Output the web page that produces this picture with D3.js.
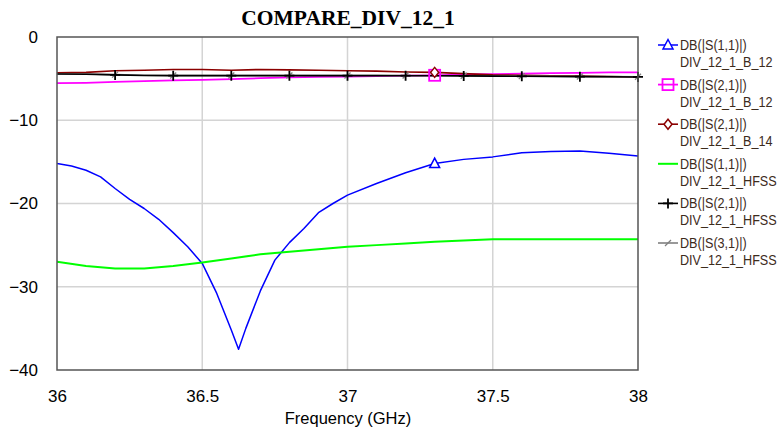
<!DOCTYPE html>
<html>
<head>
<meta charset="utf-8">
<script src="https://cdn.jsdelivr.net/npm/d3@7"></script>
<style>
  html, body { margin: 0; padding: 0; background: #fff; }
  svg { display: block; font-family: "Liberation Sans", Arial, sans-serif; }
</style>
</head>
<body>
<div id="chart"></div>
<script>
// chart data //

// frequency grid (GHz) used by most traces
var freqs = [36.0, 36.1, 36.2, 36.3, 36.4, 36.5, 36.6, 36.7, 36.8, 36.9, 37.0,
             37.1, 37.2, 37.3, 37.4, 37.5, 37.6, 37.7, 37.8, 37.9, 38.0];

// finer grid for the S11 of DIV_12_1_B_12
var freqsS11B12 = [36.0, 36.05, 36.1, 36.15, 36.2, 36.25, 36.3, 36.35, 36.4, 36.45, 36.5,
                   36.55, 36.6, 36.625, 36.65, 36.7, 36.75, 36.8, 36.85, 36.9, 36.95, 37.0,
                   37.1, 37.2, 37.3, 37.4, 37.5, 37.6, 37.7, 37.8, 37.9, 38.0];
var s11B12 = [-15.2, -15.5, -16.0, -16.8, -18.2, -19.5, -20.6, -21.9, -23.5, -25.2, -27.2,
              -30.8, -35.2, -37.5, -35.0, -30.5, -26.8, -24.7, -23.0, -21.1, -20.0, -19.0,
              -17.6, -16.3, -15.2, -14.7, -14.4, -13.9, -13.75, -13.7, -13.95, -14.3];

var s21B12 = [-5.55, -5.5, -5.4, -5.3, -5.2, -5.15, -5.05, -4.95, -4.85, -4.8, -4.75,
              -4.7, -4.65, -4.6, -4.5, -4.45, -4.4, -4.35, -4.3, -4.25, -4.25];

var s21B14 = [-4.3, -4.25, -4.05, -4.0, -3.9, -3.9, -4.0, -3.9, -3.95, -4.0, -4.05,
              -4.1, -4.2, -4.25, -4.4, -4.55, -4.6, -4.65, -4.7, -4.75, -4.8];

var s11Hfss = [-27.0, -27.5, -27.8, -27.8, -27.5, -27.1, -26.6, -26.1, -25.8, -25.5, -25.2,
               -25.0, -24.8, -24.6, -24.45, -24.3, -24.3, -24.3, -24.3, -24.3, -24.3];

var s21Hfss = [-4.45, -4.48, -4.55, -4.62, -4.64, -4.64, -4.64, -4.64, -4.64, -4.64, -4.64,
               -4.64, -4.65, -4.65, -4.67, -4.7, -4.72, -4.74, -4.76, -4.78, -4.8];

var s31Hfss = [-4.42, -4.45, -4.52, -4.6, -4.62, -4.62, -4.62, -4.62, -4.62, -4.62, -4.62,
               -4.62, -4.63, -4.63, -4.65, -4.68, -4.7, -4.72, -4.74, -4.76, -4.78];

// where the symbols sit on the traces
var markerFreqsB = [37.3];
var markerFreqsHfss = [36.2, 36.4, 36.6, 36.8, 37.0, 37.2, 37.4, 37.6, 37.8, 38.0];

var xTicks = [36, 36.5, 37, 37.5, 38];
var yTicks = [0, -10, -20, -30, -40];

var seriesNames = ["DB(|S(1,1)|)", "DB(|S(2,1)|)", "DB(|S(2,1)|)", "DB(|S(1,1)|)", "DB(|S(2,1)|)", "DB(|S(3,1)|)"];
var seriesDocs = ["DIV_12_1_B_12", "DIV_12_1_B_12", "DIV_12_1_B_14", "DIV_12_1_HFSS", "DIV_12_1_HFSS", "DIV_12_1_HFSS"];

// build the traces
    function makeSeries(){
        return [
            {x: freqsS11B12, y: s11B12, color: "#0000ff", width: 1.5, marker: "triangle", mx: markerFreqsB},
            {x: freqs, y: s21B12, color: "#ff00ff", width: 1.8, marker: "square", mx: markerFreqsB},
            {x: freqs, y: s21B14, color: "#8b0000", width: 1.6, marker: "diamond", mx: markerFreqsB},
            {x: freqs, y: s11Hfss, color: "#00ff00", width: 2, marker: "none", mx: []},
            {x: freqs, y: s31Hfss, color: "#808080", width: 1.6, marker: "slash", mx: markerFreqsHfss},
            {x: freqs, y: s21Hfss, color: "#000000", width: 1.6, marker: "plus", mx: markerFreqsHfss}
        ];
    }

// draw one marker symbol at (0,0) into g
    function drawMarker(g, type, color){
        if (type === "triangle"){
            g.append("path").attr("d", "M0,-5.5L5,4L-5,4Z")
                .attr("fill", "#fff").attr("stroke", color).attr("stroke-width", 1.5);
        } else if (type === "square"){
            g.append("rect").attr("x", -5.5).attr("y", -5.5).attr("width", 11).attr("height", 11)
                .attr("fill", "none").attr("stroke", color).attr("stroke-width", 1.8);
        } else if (type === "diamond"){
            g.append("path").attr("d", "M0,-5L4,0L0,5L-4,0Z")
                .attr("fill", "#fff").attr("stroke", color).attr("stroke-width", 1.5);
        } else if (type === "plus"){
            g.append("path").attr("d", "M0,-5V5M-5,0H5")
                .attr("stroke", color).attr("stroke-width", 1.8);
        } else if (type === "slash"){
            g.append("path").attr("d", "M-3,3L3,-3")
                .attr("stroke", color).attr("stroke-width", 1.3);
        }
    }

    function makeChart(){
        var width = 780, height = 433;
        var left = 57, right = 638, top = 37, bottom = 370;

        var x = d3.scaleLinear().domain([36, 38]).range([left, right]);
        var y = d3.scaleLinear().domain([-40, 0]).range([bottom, top]);

        var svg = d3.select("#chart").append("svg")
            .attr("width", width).attr("height", height);

        // grid
        svg.append("g").selectAll("line").data(xTicks.slice(1, -1)).enter().append("line")
            .attr("x1", function(d){ return x(d); }).attr("x2", function(d){ return x(d); })
            .attr("y1", top).attr("y2", bottom)
            .attr("stroke", "#d4d4d4").attr("stroke-width", 1.5);
        svg.append("g").selectAll("line").data(yTicks.slice(1, -1)).enter().append("line")
            .attr("y1", function(d){ return y(d); }).attr("y2", function(d){ return y(d); })
            .attr("x1", left).attr("x2", right)
            .attr("stroke", "#d4d4d4").attr("stroke-width", 1.5);

        // axes labels through d3 axes, no tick lines
        var xAxis = svg.append("g").attr("transform", "translate(0," + bottom + ")")
            .call(d3.axisBottom(x).tickValues(xTicks).tickSize(0).tickPadding(20).tickFormat(d3.format("")));
        var yAxis = svg.append("g").attr("transform", "translate(" + left + ",0)")
            .call(d3.axisLeft(y).tickValues(yTicks).tickSize(0).tickPadding(19).tickFormat(d3.format("")));
        [xAxis, yAxis].forEach(function(a){
            a.select(".domain").remove();
            a.selectAll("text").attr("font-family", "'Liberation Sans', Arial, sans-serif")
                .attr("font-size", 17).attr("fill", "#000");
        });

        // traces
        var clip = svg.append("clipPath").attr("id", "plotclip").append("rect")
            .attr("x", left).attr("y", top).attr("width", right - left).attr("height", bottom - top);
        var plot = svg.append("g").attr("clip-path", "url(#plotclip)");
        var series = makeSeries();
        series.forEach(function(s){
            var pts = s.x.map(function(f, i){ return [f, s.y[i]]; });
            var line = d3.line().x(function(d){ return x(d[0]); }).y(function(d){ return y(d[1]); });
            plot.append("path").datum(pts).attr("d", line)
                .attr("fill", "none").attr("stroke", s.color).attr("stroke-width", s.width)
                .attr("stroke-linejoin", "round");
        });
        series.forEach(function(s){
            s.mx.forEach(function(f){
                var v = d3.scaleLinear().domain(s.x).range(s.y)(f);
                var g = svg.append("g").attr("transform", "translate(" + x(f) + "," + y(v) + ")");
                drawMarker(g, s.marker, s.color);
            });
        });

        // frame
        svg.append("rect").attr("x", left).attr("y", top)
            .attr("width", right - left).attr("height", bottom - top)
            .attr("fill", "none").attr("stroke", "#555").attr("stroke-width", 1.5);

        // title and axis title
        svg.append("text").attr("x", 348).attr("y", 25).attr("text-anchor", "middle")
            .attr("font-family", "'Liberation Serif', 'Times New Roman', serif")
            .attr("font-weight", "bold").attr("font-size", 21.5)
            .text("COMPARE_DIV_12_1");
        svg.append("text").attr("x", 348).attr("y", 424).attr("text-anchor", "middle")
            .attr("font-size", 16.5).attr("fill", "#000")
            .text("Frequency (GHz)");

        // legend
        var legend = svg.append("g").attr("transform", "translate(658,0)");
        var order = [0, 1, 2, 3, 5, 4];
        var legendStyle = makeSeries();
        order.forEach(function(si, i){
            var s = legendStyle[si];
            var yy = 45 + i * 39.6;
            var g = legend.append("g").attr("transform", "translate(0," + yy + ")");
            g.append("line").attr("x1", 0).attr("x2", 20).attr("y1", 0).attr("y2", 0)
                .attr("stroke", s.color).attr("stroke-width", s.width);
            var m = g.append("g").attr("transform", "translate(10,0)");
            drawMarker(m, s.marker, s.color);
            var t = g.append("g").attr("transform", "translate(22,0) scale(0.87,1)");
            t.append("text").attr("x", 0).attr("y", 5).attr("font-size", 14.5).attr("fill", "#3d2b1c")
                .text(seriesNames[i]);
            t.append("text").attr("x", 0).attr("y", 22).attr("font-size", 14.5).attr("fill", "#3d2b1c")
                .text(seriesDocs[i]);
        });
    }

    makeChart();
</script>
</body>
</html>
